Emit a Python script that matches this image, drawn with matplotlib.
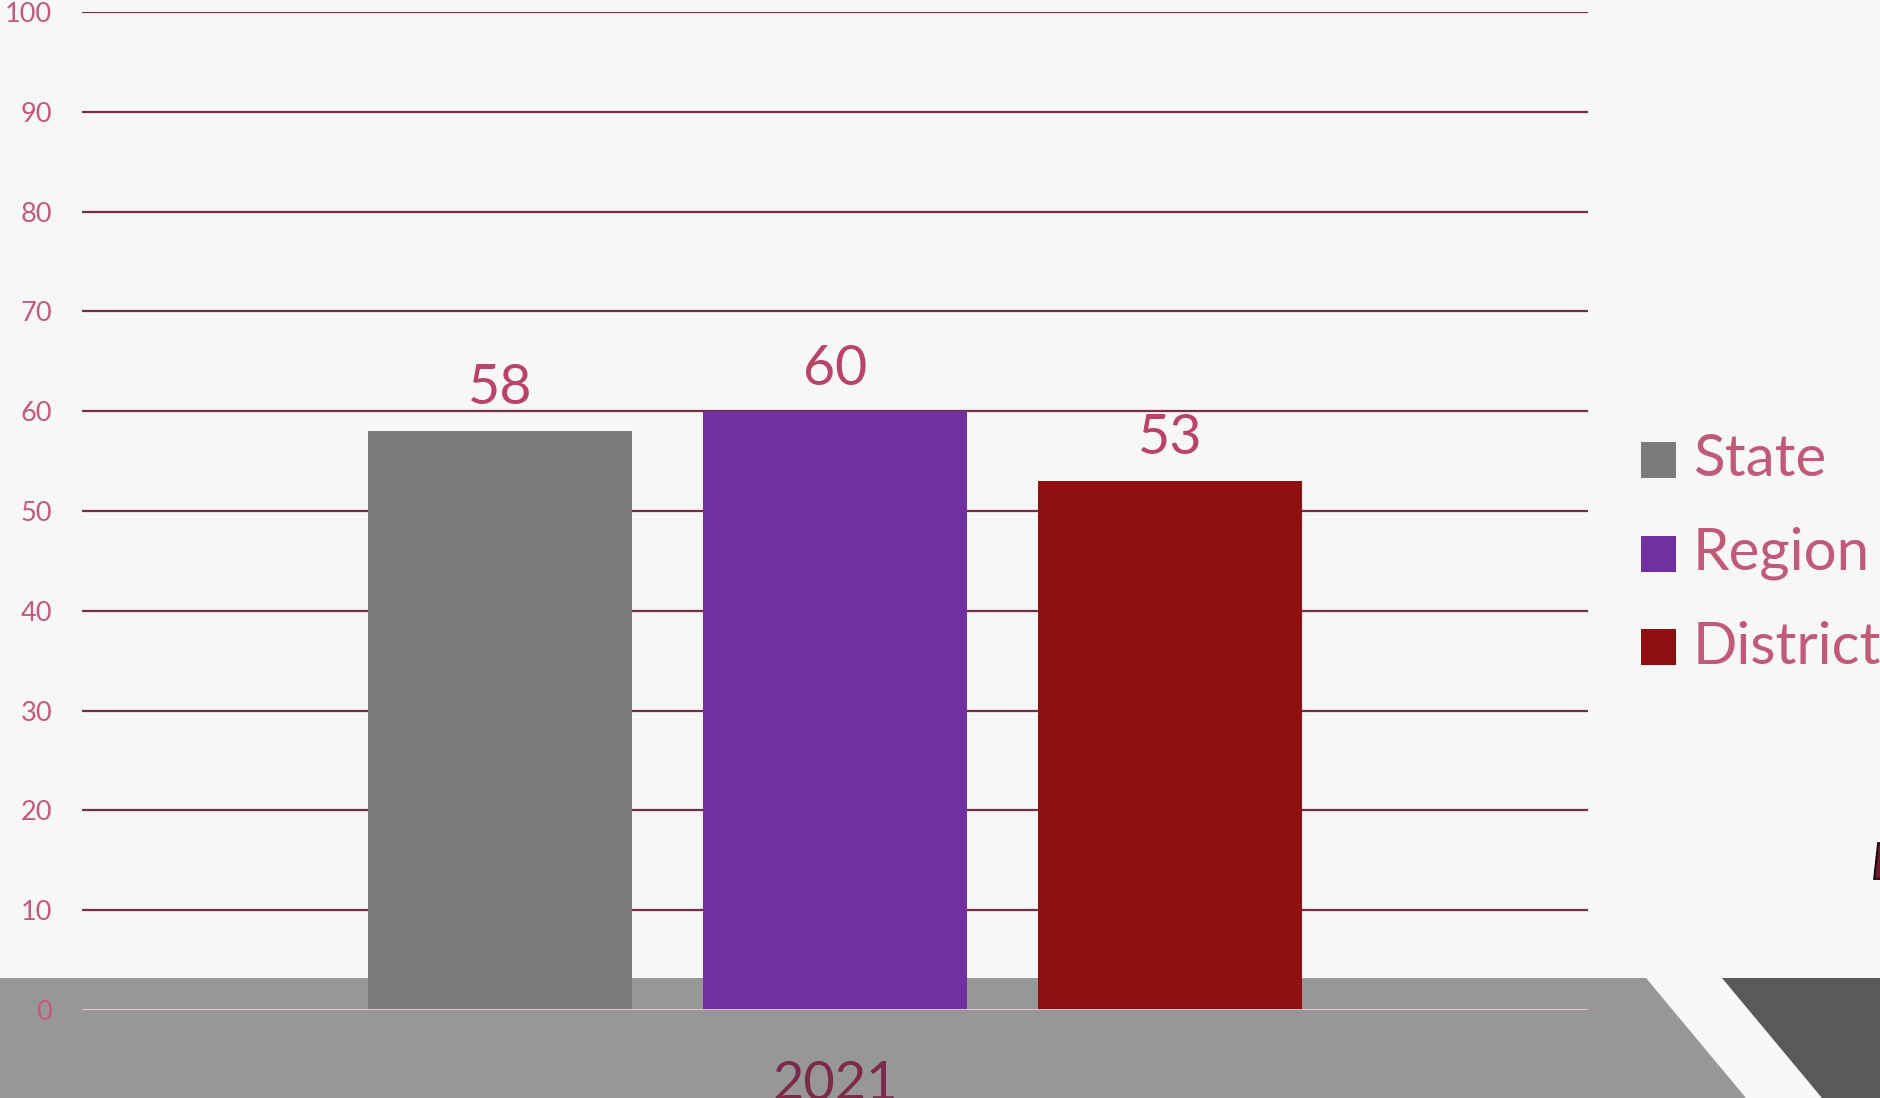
import matplotlib.pyplot as plt
from matplotlib.patches import Polygon, Rectangle

# data
years = ['2021']
series = ['State', 'Region', 'District']
values = [58, 60, 53]
colors = ['#7b7b7b', '#7030a0', '#8d1111']
yticks = [0, 10, 20, 30, 40, 50, 60, 70, 80, 90, 100]

W, H = 1881, 1098
plt.rcParams['font.family'] = ['Lato', 'DejaVu Sans']

fig = plt.figure(figsize=(W / 100, H / 100), dpi=100)
fig.patch.set_facecolor('#f7f7f7')

def fx(px):
    return px / W

def fy(py):
    return 1 - py / H

# grey floor band and dark wedge at the bottom
band = Polygon([(fx(0), fy(978)), (fx(1646), fy(978)), (fx(1746), fy(1098)), (fx(0), fy(1098))],
               closed=True, transform=fig.transFigure, facecolor='#979797', edgecolor='none', zorder=-2)
wedge = Polygon([(fx(1722), fy(978)), (fx(1881), fy(978)), (fx(1881), fy(1098)), (fx(1822), fy(1098))],
                closed=True, transform=fig.transFigure, facecolor='#595959', edgecolor='none', zorder=-2)
fig.add_artist(band)
fig.add_artist(wedge)

# tiny clipped icon at right edge
icon = Polygon([(fx(1874), fy(879)), (fx(1878), fy(843)), (fx(1884), fy(843)), (fx(1884), fy(879))],
               closed=True, transform=fig.transFigure, facecolor='#6b1a2a', edgecolor='black', lw=1.2, zorder=-1)
fig.add_artist(icon)

ax = fig.add_axes([fx(82), 1 - 1010 / H, (1588 - 82) / W, (1010 - 12) / H])
ax.set_facecolor('none')

x = list(range(len(series)))
bars = ax.bar(x, values, width=0.788, color=colors, zorder=3)
ax.bar_label(bars, labels=[str(v) for v in values], padding=12, fontsize=40, color='#b94468')

ax.set_xlim(1 - 2.248, 1 + 2.248)
ax.set_ylim(0, 100)
ax.set_yticks(yticks)
for t in yticks[1:]:
    ax.axhline(t, color='#7a2b4b', lw=1.6, zorder=1)
ax.axhline(0, color='#f2c8d8', lw=2, zorder=4, xmin=0, xmax=1)
ax.tick_params(axis='y', length=0, pad=21.5, labelsize=19.5, labelcolor='#c45a7a')
ax.set_xticks([])
for s in ax.spines.values():
    s.set_visible(False)

# category label (cut off at the bottom, as in the original)
fig.text(fx(835), fy(1100), years[0], ha='center', va='baseline', fontsize=39, color='#7b2a4a')

# legend
for i, (name, c) in enumerate(zip(series, colors)):
    top = 442 + i * 93.5
    fig.add_artist(Rectangle((fx(1641), fy(top + 36)), 35 / W, 36 / H,
                             transform=fig.transFigure, facecolor=c, edgecolor='none'))
    fig.text(fx(1693), fy(top + 18), name, ha='left', va='center', fontsize=42, color='#c05a78')

fig.savefig('out.png', dpi=100, facecolor=fig.get_facecolor())
